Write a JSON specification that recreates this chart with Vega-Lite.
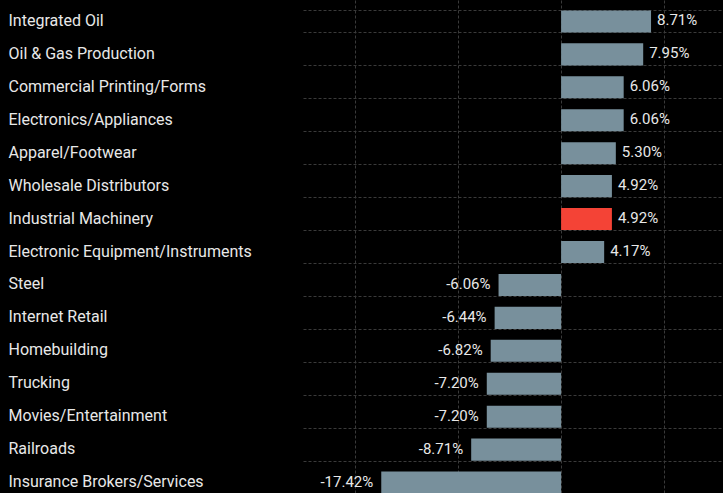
{
  "$schema": "https://vega.github.io/schema/vega-lite/v6.json",
  "autosize": {"type": "none"},
  "padding": {"left": 303, "top": 5, "right": 0, "bottom": 0},
  "width": 420,
  "height": 488,
  "background": "#000000",
  "config": {
    "view": {"stroke": null},
    "font": "Roboto",
    "text": {"font": "Roboto"}
  },
  "data": {
    "values": [
      {"category": "Integrated Oil", "value": 8.71, "label": "8.71%"},
      {"category": "Oil & Gas Production", "value": 7.95, "label": "7.95%"},
      {"category": "Commercial Printing/Forms", "value": 6.06, "label": "6.06%"},
      {"category": "Electronics/Appliances", "value": 6.06, "label": "6.06%"},
      {"category": "Apparel/Footwear", "value": 5.30, "label": "5.30%"},
      {"category": "Wholesale Distributors", "value": 4.92, "label": "4.92%"},
      {"category": "Industrial Machinery", "value": 4.92, "label": "4.92%"},
      {"category": "Electronic Equipment/Instruments", "value": 4.17, "label": "4.17%"},
      {"category": "Steel", "value": -6.06, "label": "-6.06%"},
      {"category": "Internet Retail", "value": -6.44, "label": "-6.44%"},
      {"category": "Homebuilding", "value": -6.82, "label": "-6.82%"},
      {"category": "Trucking", "value": -7.20, "label": "-7.20%"},
      {"category": "Movies/Entertainment", "value": -7.20, "label": "-7.20%"},
      {"category": "Railroads", "value": -8.71, "label": "-8.71%"},
      {"category": "Insurance Brokers/Services", "value": -17.42, "label": "-17.42%"}
    ]
  },
  "encoding": {
    "y": {
      "field": "category",
      "type": "nominal",
      "sort": null,
      "scale": {"range": [0, 494], "paddingInner": 0.33, "paddingOuter": 0.165},
      "axis": {
        "title": null,
        "ticks": false,
        "domain": false,
        "labelAlign": "left",
        "labelPadding": 295,
        "labelFont": "Roboto",
        "labelFontSize": 16,
        "labelColor": "#e8e8e8",
        "labelLimit": 0,
        "labelOffset": -1,
        "grid": true,
        "tickBand": "extent",
        "gridColor": "#3a3a3a",
        "gridDash": [3, 2],
        "gridWidth": 1
      }
    },
    "x": {
      "field": "value",
      "type": "quantitative",
      "scale": {"domain": [-25, 15.68], "nice": false, "zero": false},
      "axis": {
        "title": null,
        "labels": false,
        "ticks": false,
        "domain": false,
        "grid": true,
        "values": [-20, -10, 0, 10],
        "gridColor": "#3a3a3a",
        "gridDash": [3, 2],
        "gridWidth": 1
      }
    }
  },
  "layer": [
    {
      "mark": {"type": "bar"},
      "encoding": {
        "color": {
          "condition": {"test": "datum.category === 'Industrial Machinery'", "value": "#f44336"},
          "value": "#78909c"
        }
      }
    },
    {
      "transform": [{"filter": "datum.value >= 0"}],
      "mark": {"type": "text", "align": "left", "baseline": "middle", "dx": 6, "dy": -1, "fontSize": 15, "color": "#e8e8e8"},
      "encoding": {"text": {"field": "label", "type": "nominal"}}
    },
    {
      "transform": [{"filter": "datum.value < 0"}],
      "mark": {"type": "text", "align": "right", "baseline": "middle", "dx": -8, "dy": -1, "fontSize": 15, "color": "#e8e8e8"},
      "encoding": {"text": {"field": "label", "type": "nominal"}}
    }
  ]
}
